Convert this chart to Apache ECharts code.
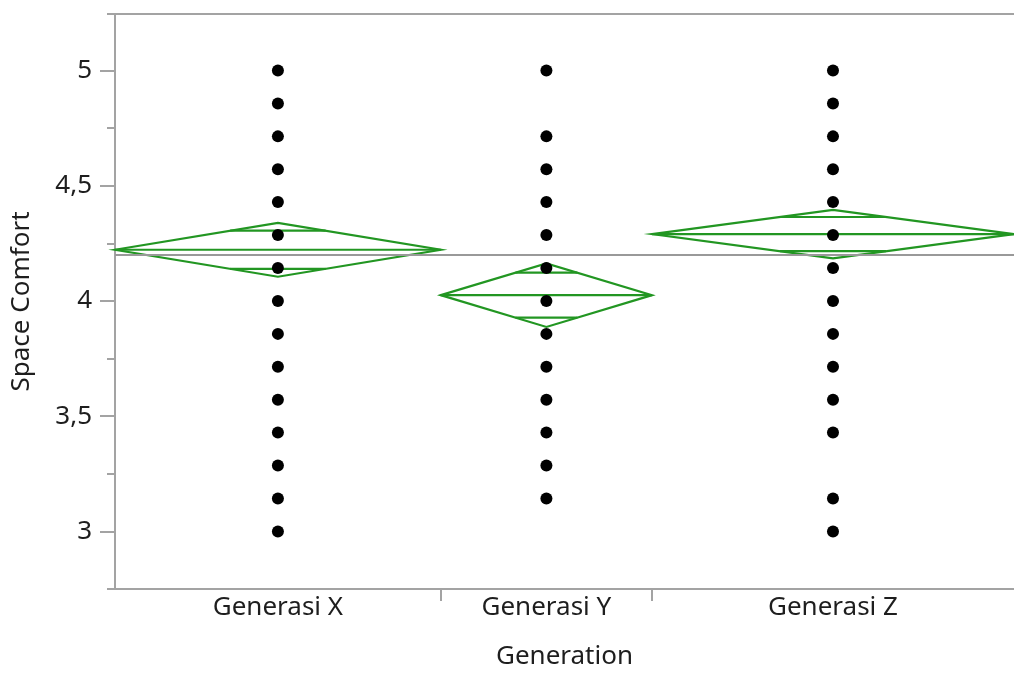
<!DOCTYPE html>
<html>
<head>
<meta charset="utf-8">
<script src="https://cdn.jsdelivr.net/npm/echarts@6/dist/echarts.min.js"></script>
<style>
html,body{margin:0;padding:0;background:#fff;}
#chart{width:1014px;height:675px;}
</style>
</head>
<body>
<div id="chart"></div>
<script>
// ---- data ----
const categories = ['Generasi X', 'Generasi Y', 'Generasi Z'];
const groupSizes = [54, 35, 60];
const groupMeans = [4.222, 4.025, 4.290];
const ciHalf = [0.117, 0.138, 0.105];
const grandMean = 4.201;
const pointsX = [5, 4.857, 4.714, 4.571, 4.429, 4.286, 4.143, 4, 3.857, 3.714, 3.571, 3.429, 3.286, 3.143, 3];
const pointsY = [5, 4.714, 4.571, 4.429, 4.286, 4.143, 4, 3.857, 3.714, 3.571, 3.429, 3.286, 3.143];
const pointsZ = [5, 4.857, 4.714, 4.571, 4.429, 4.286, 4.143, 4, 3.857, 3.714, 3.571, 3.429, 3.143, 3];
const yTicks = [3, 3.5, 4, 4.5, 5];
const yMinorTicks = [2.75, 3.25, 3.75, 4.25, 4.75, 5.245];
const yMin = 2.75, yMax = 5.245;

// ---- derived ----
const starts = [], ends = [], centers = [];
let acc = 0;
groupSizes.forEach(n => { starts.push(acc); acc += n; ends.push(acc); centers.push((starts[starts.length-1] + acc) / 2); });
const total = acc;
const groupPoints = [pointsX, pointsY, pointsZ];
const scatterData = [];
groupPoints.forEach((arr, i) => arr.forEach(v => scatterData.push([centers[i], v])));
const diamondData = categories.map((c, i) => [starts[i], ends[i], groupMeans[i], ciHalf[i]]);

const FONT = 'Noto Sans';
const TXT = '#1e1e1e';
const AXC = '#a3a3a3';
const GREEN = '#229622';

const chart = echarts.init(document.getElementById('chart'));
chart.setOption({
  animation: false,
  backgroundColor: '#fff',
  grid: { left: 115, right: 0, top: 14, bottom: 80, containLabel: false },
  xAxis: [{
    type: 'value', min: 0, max: total,
    name: 'Generation', nameLocation: 'middle', nameGap: 55,
    nameTextStyle: { fontFamily: FONT, fontSize: 26, color: TXT },
    axisLine: { show: true, lineStyle: { color: AXC, width: 2 } },
    axisTick: { show: true, customValues: ends.slice(0, -1), length: 12, lineStyle: { color: AXC, width: 2 } },
    axisLabel: {
      show: true, customValues: centers, margin: 6,
      fontFamily: FONT, fontSize: 26, color: TXT,
      formatter: v => { let best = 0; centers.forEach((c, i) => { if (Math.abs(c - v) < Math.abs(centers[best] - v)) best = i; }); return categories[best]; }
    },
    splitLine: { show: false }
  }, {
    type: 'value', min: 0, max: total, position: 'top',
    axisLine: { show: true, lineStyle: { color: AXC, width: 2 } },
    axisTick: { show: false }, axisLabel: { show: false }, splitLine: { show: false }
  }],
  yAxis: [{
    type: 'value', min: yMin, max: yMax,
    name: 'Space Comfort', nameLocation: 'middle', nameGap: 80, nameRotate: 90,
    nameTextStyle: { fontFamily: FONT, fontSize: 26, color: TXT },
    axisLine: { show: true, lineStyle: { color: AXC, width: 2 } },
    axisTick: { show: true, customValues: yTicks, length: 15, lineStyle: { color: AXC, width: 2 } },
    axisLabel: {
      show: true, customValues: yTicks, margin: 23,
      fontFamily: FONT, fontSize: 26, color: TXT,
      formatter: v => String(v).replace('.', ',')
    },
    splitLine: { show: false }
  }, {
    type: 'value', min: yMin, max: yMax, position: 'left',
    axisLine: { show: false },
    axisTick: { show: true, customValues: yMinorTicks, length: 8, lineStyle: { color: AXC, width: 2 } },
    axisLabel: { show: false }, splitLine: { show: false }
  }],
  series: [{
    type: 'custom',
    xAxisIndex: 0, yAxisIndex: 0,
    data: diamondData,
    encode: { x: [0, 1], y: [2] },
    z: 3,
    renderItem: function (params, api) {
      const s = api.value(0), e = api.value(1), m = api.value(2), h = api.value(3);
      const c = (s + e) / 2;
      const L = api.coord([s, m]), R = api.coord([e, m]);
      const T = api.coord([c, m + h]), B = api.coord([c, m - h]);
      const ho = h / Math.SQRT2, k = 1 - 1 / Math.SQRT2;
      const w = (c - s) * k;
      const style = { stroke: GREEN, lineWidth: 2.2, fill: null };
      const u1 = api.coord([c - w, m + ho]), u2 = api.coord([c + w, m + ho]);
      const l1 = api.coord([c - w, m - ho]), l2 = api.coord([c + w, m - ho]);
      return {
        type: 'group',
        children: [
          { type: 'polygon', shape: { points: [L, T, R, B] }, style: style },
          { type: 'line', shape: { x1: L[0], y1: L[1], x2: R[0], y2: R[1] }, style: style },
          { type: 'line', shape: { x1: u1[0], y1: u1[1], x2: u2[0], y2: u2[1] }, style: style },
          { type: 'line', shape: { x1: l1[0], y1: l1[1], x2: l2[0], y2: l2[1] }, style: style }
        ]
      };
    }
  }, {
    type: 'scatter',
    xAxisIndex: 0, yAxisIndex: 0,
    data: scatterData,
    symbol: 'circle', symbolSize: 12,
    itemStyle: { color: '#000', opacity: 1 },
    z: 4,
    markLine: {
      silent: true, symbol: 'none',
      label: { show: false },
      lineStyle: { color: '#999', width: 2, type: 'solid' },
      data: [{ yAxis: grandMean }]
    }
  }]
});
</script>
</body>
</html>
